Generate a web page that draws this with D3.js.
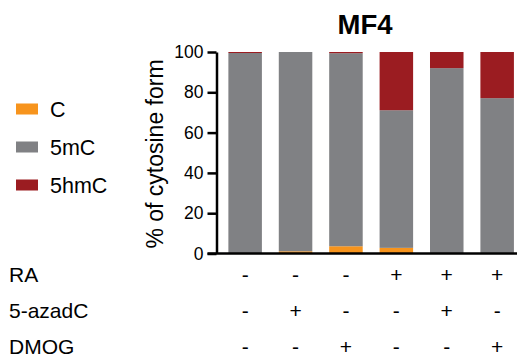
<!DOCTYPE html>
<html>
<head>
<meta charset="utf-8">
<script src="https://cdn.jsdelivr.net/npm/d3@7"></script>
<style>
  html, body { margin: 0; padding: 0; background: #fff; }
  svg { display: block; font-family: "Liberation Sans", Arial, sans-serif; }
</style>
</head>
<body>
<svg id="chart" width="517" height="363"></svg>
<script>
// ---- data ----
const samples = ["1", "2", "3", "4", "5", "6"];
const seriesNames = ["C", "5mC", "5hmC"];
const valuesC    = [0.0, 1.1, 3.6, 2.8, 0.0, 0.3];
const values5mC  = [99.5, 98.9, 95.8, 68.3, 92.0, 76.8];
const values5hmC = [0.5, 0.0, 0.6, 28.9, 8.0, 22.9];
const yTicks = [0, 20, 40, 60, 80, 100];
const treatmentNames = ["RA", "5-azadC", "DMOG"];
const treatRA    = ["-", "-", "-", "+", "+", "+"];
const treatAza   = ["-", "+", "-", "-", "+", "-"];
const treatDMOG  = ["-", "-", "+", "-", "-", "+"];
const title = "MF4";
const yLabel = "% of cytosine form";
const colors = ["#F7941D", "#808184", "#9B1C21"];

// ---- build table ----
const table = samples.map((s, i) => ({
  sample: s, C: valuesC[i], "5mC": values5mC[i], "5hmC": values5hmC[i]
}));
const stacked = d3.stack().keys(seriesNames)(table);

const svg = d3.select("#chart");

const y = d3.scaleLinear().domain([0, 100]).range([253.5, 52]);
const x = d3.scaleBand().domain(samples).range([218.3, 524]).paddingInner(0.335).paddingOuter(0.2);
const color = d3.scaleOrdinal().domain(seriesNames).range(colors);

// bars
svg.append("g").selectAll("g")
  .data(stacked).join("g")
  .attr("fill", d => color(d.key))
  .selectAll("rect")
  .data(d => d).join("rect")
  .attr("x", d => x(d.data.sample))
  .attr("width", x.bandwidth())
  .attr("y", d => y(d[1]))
  .attr("height", d => Math.max(0, y(d[0]) - y(d[1])));

// y axis
const yAxis = svg.append("g")
  .attr("transform", "translate(216.5,0)")
  .call(d3.axisLeft(y).tickValues(yTicks).tickSize(9).tickPadding(4).tickSizeOuter(0));
yAxis.select(".domain").attr("stroke", "#000").attr("stroke-width", 2.5);
yAxis.selectAll(".tick line").attr("stroke", "#000").attr("stroke-width", 2.5);
yAxis.selectAll(".tick text")
  .attr("font-size", 17.5).attr("font-family", "Liberation Sans, Arial, sans-serif")
  .attr("fill", "#000");

// baseline
svg.append("line")
  .attr("x1", 207.5).attr("x2", 517)
  .attr("y1", y(0)).attr("y2", y(0))
  .attr("stroke", "#000").attr("stroke-width", 2.5);

// title
svg.append("text")
  .attr("x", 365).attr("y", 34)
  .attr("text-anchor", "middle")
  .attr("font-weight", "bold").attr("font-size", 27.5)
  .text(title);

// y label
svg.append("text")
  .attr("transform", "translate(163,154) rotate(-90)")
  .attr("text-anchor", "middle")
  .attr("font-size", 23)
  .text(yLabel);

// legend
const legend = svg.append("g");
const legendY = [109, 147, 185];
seriesNames.forEach((name, i) => {
  legend.append("rect")
    .attr("x", 16).attr("y", legendY[i] - 5.5)
    .attr("width", 22).attr("height", 11)
    .attr("fill", color(name));
  legend.append("text")
    .attr("x", 50).attr("y", legendY[i] + 7.5)
    .attr("font-size", 21.5)
    .text(name);
});

// treatment table
const rows = [treatRA, treatAza, treatDMOG];
const rowY = [282, 318, 354];
rows.forEach((row, r) => {
  svg.append("text")
    .attr("x", 9).attr("y", rowY[r])
    .attr("font-size", 21)
    .text(treatmentNames[r]);
  svg.append("g").selectAll("text")
    .data(row).join("text")
    .attr("x", (d, i) => x(samples[i]) + x.bandwidth() / 2)
    .attr("y", rowY[r])
    .attr("text-anchor", "middle")
    .attr("font-size", 21)
    .text(d => d);
});
</script>
</body>
</html>
